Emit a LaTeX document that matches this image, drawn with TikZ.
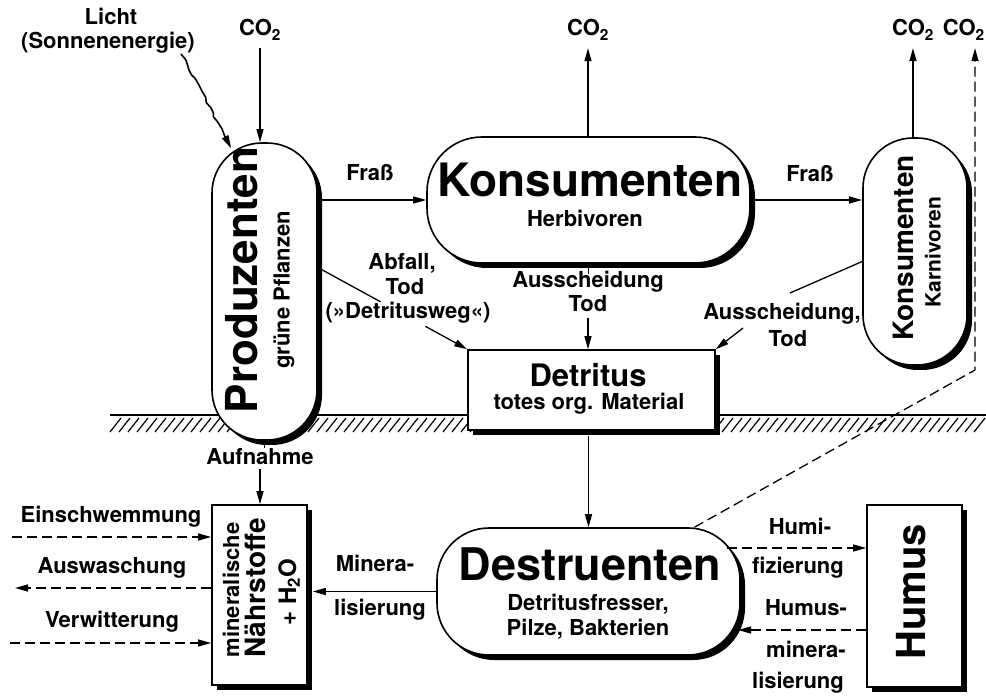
\documentclass[tikz,border=0pt]{standalone}
\usepackage{fontspec}
\setmainfont{TeX Gyre Heros}
\usetikzlibrary{arrows.meta, shadows, calc, decorations.pathmorphing}

\tikzset{
  capsule/.style={draw, line width=1.6pt, fill=white, rounded corners=#1, inner sep=0pt,
    drop shadow={shadow xshift=5pt, shadow yshift=-5pt, fill=black, opacity=1}},
  capsule/.default=50pt,
  box/.style={draw, line width=1.6pt, fill=white, inner sep=0pt,
    drop shadow={shadow xshift=5pt, shadow yshift=-5pt, fill=black, opacity=1}},
  txt/.style={font=\fontsize{#1}{#1}\selectfont\bfseries, inner sep=0pt, anchor=base},
  txt/.default=22,
  flow/.style={line width=1.3pt},
  arr/.style={line width=1.3pt, -{Triangle[length=13pt,width=7pt]}},
  dflow/.style={line width=1.3pt, dash pattern=on 10pt off 5pt},
  darr/.style={dflow, -{Triangle[length=13pt,width=7pt]}},
  hatch/.style={line width=1.2pt},
}

\begin{document}
\begin{tikzpicture}[x=1pt, y=-1pt]
    \useasboundingbox (0,0) rectangle (986,700);

    % ground
    \draw[line width=1.4pt] (110,415) -- (986,415);
    \foreach \x in {110,119,...,976}
        \draw[hatch] (\x,432) -- ++(11,-14);

    % compartments
    \node[capsule, minimum width=105pt, minimum height=297pt] (prod) at (264.5,291.5) {};
    \node[capsule=55pt, minimum width=323pt, minimum height=126pt] (kons) at (588.5,200) {};
    \node[capsule, minimum width=104pt, minimum height=227pt] (karn) at (915,251.5) {};
    \node[capsule=52pt, minimum width=303pt, minimum height=127pt] (dest) at (588.5,591.5) {};
    \node[box, minimum width=247pt, minimum height=80pt] (det) at (591.5,390) {};
    \node[box, minimum width=95pt, minimum height=180pt] (min) at (259.5,595) {};
    \node[box, minimum width=95pt, minimum height=182pt] (hum) at (914.5,596) {};

    % texts
    \node[txt] (licht) at (111,25) {Licht};
    \node[txt] (sonne) at (108,49) {(Sonnenenergie)};
    \node[txt] (co2a) at (260,36) {CO\textsubscript{2}};
    \node[txt] (co2b) at (588,36) {CO\textsubscript{2}};
    \node[txt] (co2c) at (913,36) {CO\textsubscript{2}};
    \node[txt, anchor=base east] (co2d) at (985,36) {CO\textsubscript{2}};
    \node[txt] (fr1) at (370,181) {Fraß};
    \node[txt] (fr2) at (810,182) {Fraß};
    \node[txt=46] (konst) at (590,197) {Konsumenten};
    \node[txt] (herb) at (585,227) {Herbivoren};
    \node[txt=44, rotate=90, anchor=center] (prodt) at (242,280) {Produzenten};
    \node[txt, rotate=90, anchor=center] (gruen) at (284,290) {grüne Pflanzen};
    \node[txt=28, rotate=90, anchor=center] (karnt) at (903,248) {Konsumenten};
    \node[txt=21, rotate=90, anchor=center] (karnv) at (933,252) {Karnivoren};
    \node[txt] (abf1) at (402,270) {Abfall,};
    \node[txt] (abf2) at (405,295) {Tod};
    \node[txt] (abf3) at (408,319) {(»Detritusweg«)};
    \node[txt] (aus1) at (588,288) {Ausscheidung};
    \node[txt] (aus2) at (588,312) {Tod};
    \node[txt] (ausr1) at (782,320) {Ausscheidung,};
    \node[txt] (ausr2) at (788,347) {Tod};
    \node[txt=31] (dett) at (588,387) {Detritus};
    \node[txt] (detm) at (589,410) {totes org. Material};
    \node[txt] (aufn) at (260,465) {Aufnahme};
    \node[txt] (ein) at (111,522) {Einschwemmung};
    \node[txt] (ausw) at (112,573) {Auswaschung};
    \node[txt] (verw) at (112,627) {Verwitterung};
    \node[txt=22, rotate=90, anchor=center] (mint1) at (231,590) {mineralische};
    \node[txt=28, rotate=90, anchor=center] (mint2) at (255,588) {Nährstoffe};
    \node[txt=24, rotate=90, anchor=center] (mint3) at (289,592) {+ H\textsubscript{2}O};
    \node[txt] (mi1) at (375,572) {Minera-};
    \node[txt] (mi2) at (380,615) {lisierung};
    \node[txt=45] (destt) at (590,580) {Destruenten};
    \node[txt] (dest1) at (588,610) {Detritusfresser,};
    \node[txt] (dest2) at (588,635) {Pilze, Bakterien};
    \node[txt] (hu1) at (800,535) {Humi-};
    \node[txt] (hu2) at (798,573) {fizierung};
    \node[txt] (hu3) at (806,615) {Humus-};
    \node[txt] (hu4) at (806,657) {minera-};
    \node[txt] (hu5) at (798,688) {lisierung};
    \node[txt=40, rotate=90, anchor=center] (humt) at (911,592) {Humus};

    % connectors
    \draw[arr, line width=1.6pt, decorate, decoration={random steps, segment length=6pt, amplitude=2pt, post length=14pt}]
        ([xshift=-14pt]sonne.south east) -- ([xshift=20pt,yshift=-6pt]prod.north west);
    \draw[arr] ($(co2a.south)+(0,8)$) -- (co2a.south |- prod.north);
    \draw[arr] (kons.north -| co2b) -- ($(co2b.south)+(0,8)$);
    \draw[arr] (karn.north -| co2c) -- ($(co2c.south)+(0,8)$);
    \coordinate (bend) at (975,370);
    \draw[darr] ([xshift=106pt]dest.north) -- (bend) -- ($(bend |- co2d.south)+(0,8)$);

    \draw[arr] (prod.east |- kons.west) -- (kons.west);
    \draw[arr] (kons.east) -- (kons.east -| karn.west);

    \coordinate (ab0) at ([yshift=24pt]prod.east);
    \draw[flow] (ab0) -- ($(ab0)!0.42!(det.north west)$);
    \draw[arr] ($(ab0)!0.72!(det.north west)$) -- (det.north west);

    \draw[flow] (kons.south) -- ++(0,10);
    \draw[arr] ($(aus2.south)+(0,6)$) -- (aus2.south |- det.north);

    \coordinate (r1) at (790,293);
    \coordinate (r2) at (743,328);
    \draw[flow] ([yshift=-10pt]karn.west) -- (r1);
    \draw[arr] (r2) -- (det.north east);

    \draw[arr] ($(det.south -| dest.north)+(0,5)$) -- (dest.north);

    \draw[flow] (prod.south) -- ++(0,7);
    \draw[arr] ($(aufn.south)+(0,4)$) -- (aufn.south |- min.north);

    \coordinate (e0) at (12,537);
    \coordinate (w0) at (15,588);
    \coordinate (v0) at (10,643);
    \draw[darr] (e0) -- (e0 -| min.west);
    \draw[darr] (w0 -| min.west) -- (w0);
    \draw[darr] (v0) -- (v0 -| min.west);

    \draw[arr] (dest.west) -- ($(dest.west -| min.east)+(5,0)$);

    \coordinate (h1) at (727,548);
    \coordinate (h2) at (738,630);
    \draw[darr] (h1) -- (h1 -| hum.west);
    \draw[darr] (h2 -| hum.west) -- (h2);
\end{tikzpicture}
\end{document}
